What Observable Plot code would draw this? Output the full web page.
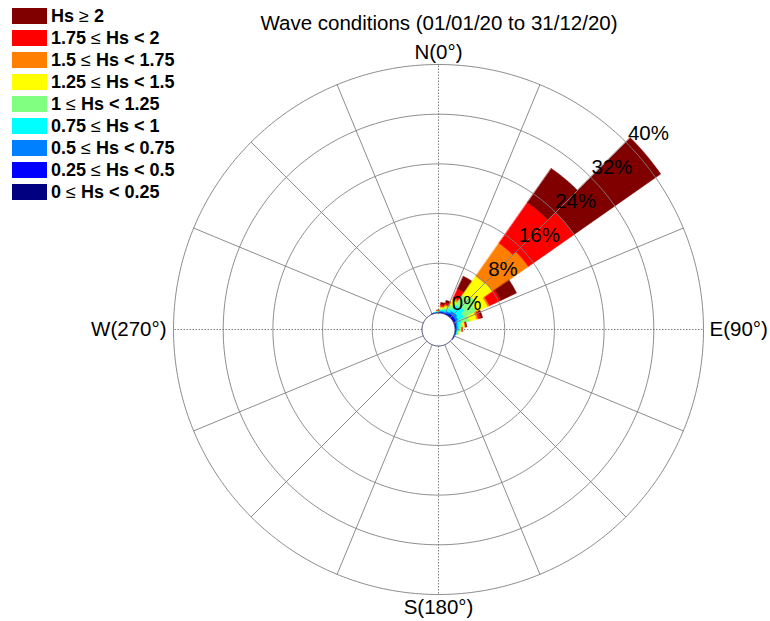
<!DOCTYPE html>
<html><head><meta charset="utf-8">
<script src="https://cdn.jsdelivr.net/npm/d3@7"></script>
<script src="https://cdn.jsdelivr.net/npm/@observablehq/plot@0.6"></script>
<style>
body{margin:0;background:#fff;}
#wrap{position:relative;width:770px;height:621px;font-family:"Liberation Sans",Arial,Helvetica,sans-serif;overflow:hidden;}
#title{position:absolute;top:13px;left:439px;transform:translateX(-50%);font-size:20.5px;line-height:20.5px;white-space:nowrap;color:#000;}
.lg-rect{position:absolute;left:12px;width:35px;height:16px;}
.lg-text{position:absolute;left:51px;font-weight:bold;font-size:18px;line-height:18px;white-space:nowrap;color:#000;}
.lg-text .op{font-weight:normal;}
#chart{position:absolute;left:0;top:0;}
</style></head><body>
<div id="wrap"><div id="chart"></div><div id="title">Wave conditions (01/01/20 to 31/12/20)</div></div>
<script>
// ---- data ----
const directions = [340, 350, 0, 10, 20, 30, 40, 50, 60, 70, 80, 90, 100, 110, 120]; // bin centre (deg from N)
const hsClasses = ["0 ≤ Hs < 0.25", "0.25 ≤ Hs < 0.5", "0.5 ≤ Hs < 0.75", "0.75 ≤ Hs < 1", "1 ≤ Hs < 1.25",
                   "1.25 ≤ Hs < 1.5", "1.5 ≤ Hs < 1.75", "1.75 ≤ Hs < 2", "Hs ≥ 2"];
const hsColors = ["#000080", "#0000ff", "#0080ff", "#00ffff", "#80ff80", "#ffff00", "#ff8000", "#ff0000", "#800000"];
// frequency (%) per direction, one array per Hs class
const hs_000_025 = [0.05, 0.05, 0.05, 0.1, 0.1, 0.1, 0.2, 0.2, 0.2, 0.1, 0.1, 0.1, 0.05, 0.05, 0.05];
const hs_025_050 = [0.05, 0.05, 0.05, 0.1, 0.1, 0.2, 0.3, 0.3, 0.3, 0.2, 0.15, 0.15, 0.1, 0.05, 0.05];
const hs_050_075 = [0, 0.05, 0.1, 0.15, 0.2, 0.3, 0.5, 0.6, 0.4, 0.3, 0.25, 0.2, 0.15, 0.1, 0];
const hs_075_100 = [0, 0.05, 0.1, 0.2, 0.3, 0.5, 1.2, 1.4, 1.0, 0.6, 0.4, 0.3, 0.2, 0, 0];
const hs_100_125 = [0, 0, 0.05, 0.2, 0.3, 0.7, 2.0, 2.3, 2.2, 1.3, 0.4, 0.2, 0.1, 0, 0];
const hs_125_150 = [0, 0, 0.05, 0.2, 0.3, 0.8, 3.6, 3.2, 2.0, 1.2, 0.3, 0.1, 0.05, 0, 0];
const hs_150_175 = [0, 0, 0.05, 0.15, 0.2, 0.4, 6.5, 7.0, 0.3, 0.3, 0.1, 0.1, 0, 0, 0];
const hs_175_200 = [0, 0, 0.05, 0.3, 0.3, 1.6, 8.0, 9.0, 2.0, 0.4, 0.1, 0.05, 0, 0, 0];
const hs_200_up  = [0, 0, 0, 0.3, 0.4, 2.2, 6.7, 17.0, 2.8, 0.3, 0.1, 0, 0, 0, 0];
const ringPcts = [0, 8, 16, 24, 32, 40];
const cardinals = [{a: 0, t: "N(0°)"}, {a: 90, t: "E(90°)"}, {a: 180, t: "S(180°)"}, {a: 270, t: "W(270°)"}];
const spokeAngles = d3.range(0, 360, 22.5);
const binWidth = 10;

// ---- layout ----
const W = 770, H = 621, cx = 438, cy = 329, Rpx = 265, holePx = 16.5;
const maxPct = 40;
const k = (Rpx - holePx) / maxPct;     // px per %
const hole = holePx / k;               // hole radius in % units
const rad = a => a * Math.PI / 180;
const pol = (a, r) => ({x: r * Math.sin(rad(a)), y: r * Math.cos(rad(a))});

const classArrays = [hs_000_025, hs_025_050, hs_050_075, hs_075_100, hs_100_125, hs_125_150, hs_150_175, hs_175_200, hs_200_up];

// petals
const petalPts = [];
directions.forEach((d, j) => {
  let cum = 0;
  classArrays.forEach((arr, i) => {
    const v = arr[j];
    if (!(v > 0)) return;
    const lo = cum, hi = cum + v; cum = hi;
    const id = d + "-" + i;
    for (let a = d - binWidth / 2; a <= d + binWidth / 2 + 1e-9; a += 0.5) petalPts.push({id, cls: hsClasses[i], ...pol(a, hole + hi)});
    for (let a = d + binWidth / 2; a >= d - binWidth / 2 - 1e-9; a -= 0.5) petalPts.push({id, cls: hsClasses[i], ...pol(a, hole + lo)});
  });
});

// rings
const ringPts = [];
ringPcts.filter(p => p > 0).forEach(p => {
  for (let a = 0; a <= 360; a += 1) ringPts.push({ring: p, ...pol(a, hole + p)});
});
const holePts = d3.range(0, 361, 2).map(a => pol(a, hole));

const spokes = spokeAngles.map(a => {
  const p1 = pol(a, hole), p2 = pol(a, hole + maxPct);
  return {a, x1: p1.x, y1: p1.y, x2: p2.x, y2: p2.y, axis: a % 90 === 0};
});

const labelAngle = 47;
const labelOff = 22 / k;
const pctLabels = ringPcts.map(p => ({t: p + "%", ...pol(labelAngle, hole + p + labelOff)}));
const cardPts = cardinals.map(c => ({...c, ...pol(c.a, hole + maxPct)}));

const chart = Plot.plot({
  width: W, height: H,
  marginTop: 0, marginRight: 0, marginBottom: 0, marginLeft: 0,
  x: {domain: [-cx / k, (W - cx) / k], axis: null},
  y: {domain: [-(H - cy) / k, cy / k], axis: null},
  color: {domain: hsClasses, range: hsColors},
  style: {fontFamily: "'Liberation Sans', Arial, Helvetica, sans-serif", background: "transparent", overflow: "visible", color: "#000"},
  marks: [
    Plot.line(petalPts, {x: "x", y: "y", z: "id", fill: "cls", stroke: "cls", strokeWidth: 0.5, curve: "linear-closed"}),
    Plot.line(holePts, {x: "x", y: "y", fill: "white", stroke: "#3c3c78", strokeWidth: 1, curve: "linear-closed"}),
    Plot.line(ringPts, {x: "x", y: "y", z: "ring", stroke: "#808080", strokeWidth: 0.9}),
    Plot.link(spokes.filter(s => !s.axis), {x1: "x1", y1: "y1", x2: "x2", y2: "y2", stroke: "#808080", strokeWidth: 0.9}),
    Plot.link(spokes.filter(s => s.axis), {x1: "x1", y1: "y1", x2: "x2", y2: "y2", stroke: "#707070", strokeWidth: 0.9, strokeDasharray: "1.5,1.5"}),
    Plot.text(pctLabels, {x: "x", y: "y", text: "t", fontSize: 20.5, fill: "#000", lineAnchor: "middle", textAnchor: "middle"}),
    Plot.text(cardPts.filter(c => c.a === 0), {x: "x", y: "y", text: "t", fontSize: 20.5, fill: "#000", lineAnchor: "middle", dy: -12}),
    Plot.text(cardPts.filter(c => c.a === 180), {x: "x", y: "y", text: "t", fontSize: 20.5, fill: "#000", lineAnchor: "middle", dy: 13}),
    Plot.text(cardPts.filter(c => c.a === 90), {x: "x", y: "y", text: "t", fontSize: 20.5, fill: "#000", lineAnchor: "middle", textAnchor: "start", dx: 6}),
    Plot.text(cardPts.filter(c => c.a === 270), {x: "x", y: "y", text: "t", fontSize: 20.5, fill: "#000", lineAnchor: "middle", textAnchor: "end", dx: -7})
  ]
});
document.getElementById("chart").appendChild(chart);

// legend (top row = highest class)
const wrap = document.getElementById("wrap");
const rows = hsClasses.map((c, i) => ({c, col: hsColors[i]})).reverse();
rows.forEach((r, i) => {
  const cyRow = 15.8 + 22.06 * i;
  const rect = document.createElement("div");
  rect.className = "lg-rect";
  rect.style.top = (cyRow - 8) + "px";
  rect.style.background = r.col;
  wrap.appendChild(rect);
  const txt = document.createElement("div");
  txt.className = "lg-text";
  txt.style.top = (cyRow - 8.8) + "px";
  txt.innerHTML = r.c.replace(/[≤≥]/g, m => '<span class="op">' + m + '</span>').replace(/</g, (m, off, s) => m).replace(/ < /g, " &lt; ");
  wrap.appendChild(txt);
});
</script>
</body></html>
